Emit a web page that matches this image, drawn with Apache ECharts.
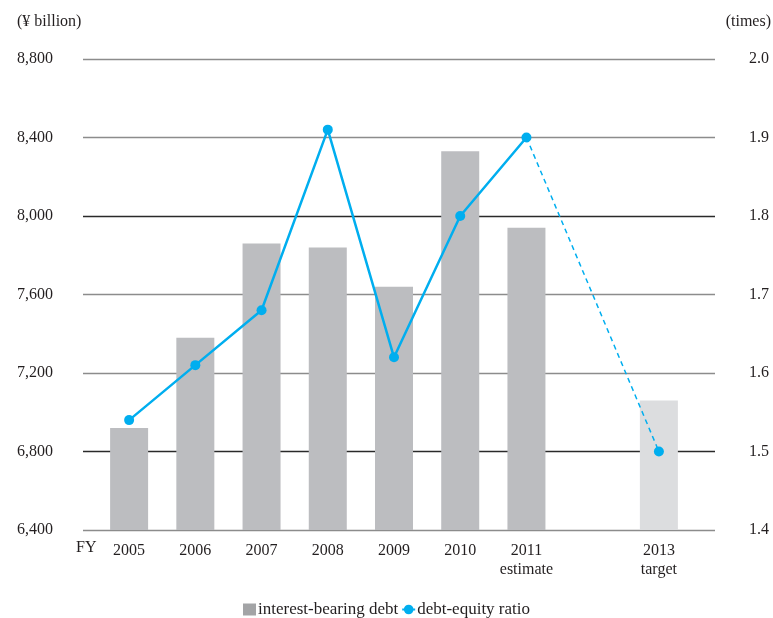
<!DOCTYPE html>
<html>
<head>
<meta charset="utf-8">
<script src="https://cdn.jsdelivr.net/npm/echarts@6/dist/echarts.min.js"></script>
<style>
  html, body { margin: 0; padding: 0; background: #fff; }
  #chart { width: 773px; height: 618px; }
</style>
</head>
<body>
<div id="chart"></div>
<script>
// Fiscal years (2012 is an empty slot between the estimate and the target)
const years = ['2005', '2006', '2007', '2008', '2009', '2010', '2011', '2012', '2013'];
const yearLabels = ['2005', '2006', '2007', '2008', '2009', '2010', '2011\nestimate', '', '2013\ntarget'];

// Interest-bearing debt, ¥ billion
const debt = [6920, 7380, 7860, 7840, 7640, 8330, 7940, null, 7060];
// Debt-equity ratio, times
const deRatio = [1.54, 1.61, 1.68, 1.91, 1.62, 1.80, 1.90, null, 1.50];

// Axis ticks
const leftTicks = [6400, 6800, 7200, 7600, 8000, 8400, 8800];
const rightTicks = [1.4, 1.5, 1.6, 1.7, 1.8, 1.9, 2.0];

const estimateIdx = 6;   // last actual/estimate point, where the dashed projection starts
const targetIdx = 8;     // target year

const FONT = 'Liberation Serif';
const TEXT = '#231f20';
const BAR = '#bcbdc0';
const BAR_TARGET = '#dcdddf';
const LINE = '#00aeef';

const chart = echarts.init(document.getElementById('chart'));

const fmtThousands = v => v.toLocaleString('en-US');

const barData = debt.map((v, i) => {
  if (v == null) return '-';
  return i === targetIdx ? { value: v, itemStyle: { color: BAR_TARGET } } : v;
});
const solidData = deRatio.map((v, i) => (i <= estimateIdx && v != null ? v : '-'));
const dashedData = deRatio.map((v, i) => {
  if (i < estimateIdx || v == null) return '-';
  return i === estimateIdx ? { value: v, symbol: 'none' } : v;
});

chart.setOption({
  animation: false,
  textStyle: { fontFamily: FONT, color: TEXT },
  grid: [
    // frame grid: carries the gridlines and the tick labels
    { left: 83, right: 58, top: 59, bottom: 88 },
    // data grid: category bands
    { left: 96, right: 81, top: 59, bottom: 88 }
  ],
  xAxis: [
    { gridIndex: 0, type: 'value', show: false, min: 0, max: 1 },
    {
      gridIndex: 1, type: 'category', data: years,
      axisLine: { show: false }, axisTick: { show: false },
      axisLabel: {
        interval: 0, margin: 11, fontFamily: FONT, fontSize: 16, color: TEXT, lineHeight: 19,
        formatter: (val, idx) => yearLabels[idx]
      }
    }
  ],
  yAxis: [
    {
      gridIndex: 0, type: 'value', position: 'left',
      min: leftTicks[0], max: leftTicks[leftTicks.length - 1], interval: 400,
      axisLine: { show: false }, axisTick: { show: false },
      axisLabel: { align: 'left', margin: 66, fontFamily: FONT, fontSize: 16, color: TEXT, formatter: fmtThousands },
      splitLine: {
        show: true,
        lineStyle: { width: 1.3, color: ['#8c8c8c', '#2a2a2a', '#8c8c8c', '#8c8c8c', '#2a2a2a', '#8c8c8c', '#8c8c8c'] }
      }
    },
    {
      gridIndex: 0, type: 'value', position: 'right',
      min: rightTicks[0], max: rightTicks[rightTicks.length - 1], interval: 0.1,
      axisLine: { show: false }, axisTick: { show: false }, splitLine: { show: false },
      axisLabel: { align: 'left', margin: 34, fontFamily: FONT, fontSize: 16, color: TEXT, formatter: v => v.toFixed(1) }
    },
    {
      gridIndex: 1, type: 'value', show: false,
      min: leftTicks[0], max: leftTicks[leftTicks.length - 1], splitLine: { show: false }
    },
    {
      gridIndex: 1, type: 'value', show: false,
      min: rightTicks[0], max: rightTicks[rightTicks.length - 1], splitLine: { show: false }
    }
  ],
  legend: {
    left: 'center', top: 596,
    itemWidth: 13, itemHeight: 12, itemGap: 3,
    textStyle: { fontFamily: FONT, fontSize: 17, color: TEXT, padding: [0, 0, 0, -3] },
    data: [
      { name: 'interest-bearing debt', icon: 'rect', itemStyle: { color: '#a3a4a6' } },
      { name: 'debt-equity ratio' }
    ]
  },
  graphic: [
    { type: 'text', left: 17, top: 14, style: { text: '(¥ billion)', font: '16px "Liberation Serif"', fill: TEXT } },
    { type: 'text', right: 2, top: 14, style: { text: '(times)', font: '16px "Liberation Serif"', fill: TEXT } },
    { type: 'text', left: 76, top: 540, style: { text: 'FY', font: '16px "Liberation Serif"', fill: TEXT } }
  ],
  series: [
    {
      name: 'interest-bearing debt', type: 'bar', xAxisIndex: 1, yAxisIndex: 2,
      barWidth: 38, itemStyle: { color: BAR }, data: barData
    },
    {
      name: 'debt-equity ratio', type: 'line', xAxisIndex: 1, yAxisIndex: 3,
      symbol: 'circle', symbolSize: 10, z: 5,
      lineStyle: { color: LINE, width: 2.5 }, itemStyle: { color: LINE },
      data: solidData
    },
    {
      name: 'projection', type: 'line', xAxisIndex: 1, yAxisIndex: 3,
      symbol: 'circle', symbolSize: 10, connectNulls: true, z: 4,
      lineStyle: { color: LINE, width: 1.5, type: [5, 4] }, itemStyle: { color: LINE },
      data: dashedData
    }
  ]
});
</script>
</body>
</html>
